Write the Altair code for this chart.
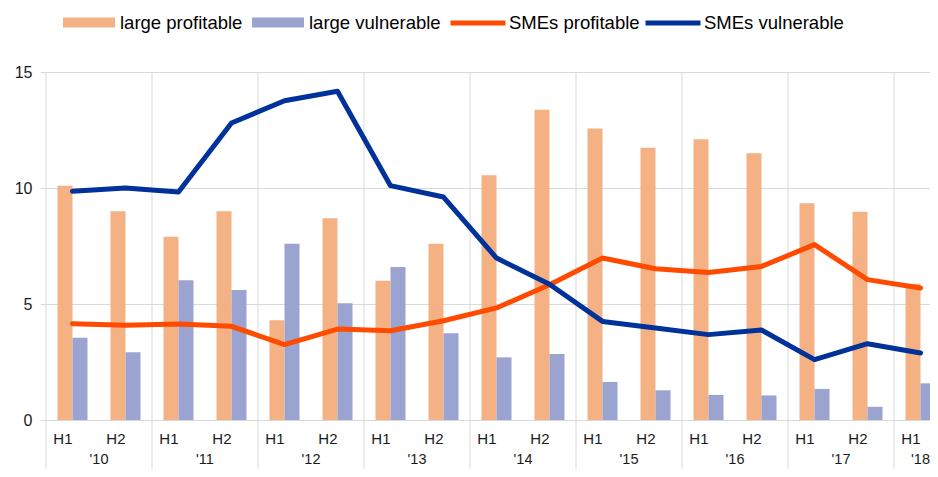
import altair as alt
import pandas as pd

# ---- data ----
periods = ["2010-H1", "2010-H2", "2011-H1", "2011-H2", "2012-H1", "2012-H2",
           "2013-H1", "2013-H2", "2014-H1", "2014-H2", "2015-H1", "2015-H2",
           "2016-H1", "2016-H2", "2017-H1", "2017-H2", "2018-H1"]
year_starts = ["2010-H1", "2011-H1", "2012-H1", "2013-H1", "2014-H1",
               "2015-H1", "2016-H1", "2017-H1", "2018-H1"]
year_labels = ["'10", "'11", "'12", "'13", "'14", "'15", "'16", "'17", "'18"]

large_profitable = [10.1, 9.0, 7.9, 9.0, 4.3, 8.7, 6.0, 7.6, 10.55, 13.37,
                    12.57, 11.74, 12.1, 11.5, 9.34, 8.98, 5.87]
large_vulnerable = [3.55, 2.92, 6.02, 5.6, 7.6, 5.03, 6.6, 3.74, 2.7, 2.84,
                    1.64, 1.28, 1.08, 1.06, 1.34, 0.57, 1.58]
smes_profitable = [4.15, 4.08, 4.14, 4.04, 3.25, 3.92, 3.85, 4.28, 4.83, 5.83,
                   6.98, 6.52, 6.36, 6.62, 7.56, 6.05, 5.69]
smes_vulnerable = [9.86, 10.0, 9.83, 12.8, 13.76, 14.17, 10.1, 9.61, 6.98, 5.85,
                   4.25, 3.97, 3.68, 3.88, 2.6, 3.29, 2.89]

bar_series = ["large profitable", "large vulnerable"]
line_series = ["SMEs profitable", "SMEs vulnerable"]
bar_colors = ["#F4B183", "#9BA3D1"]
line_colors = ["#FF4B00", "#003299"]

# ---- tables ----
bars_df = pd.DataFrame(
    [{"period": p, "series": bar_series[0], "value": v} for p, v in zip(periods, large_profitable)]
    + [{"period": p, "series": bar_series[1], "value": v} for p, v in zip(periods, large_vulnerable)]
)
lines_df = pd.DataFrame(
    [{"period": p, "series": line_series[0], "value": v} for p, v in zip(periods, smes_profitable)]
    + [{"period": p, "series": line_series[1], "value": v} for p, v in zip(periods, smes_vulnerable)]
)
years_full = pd.DataFrame({"period": year_starts[:-1], "label": year_labels[:-1]})
years_last = pd.DataFrame({"period": year_starts[-1:], "label": year_labels[-1:]})
seps_df = pd.DataFrame({"period": year_starts})

# ---- layout ----
N = len(periods)
STEP = 53.0
RANGE_W = STEP * N          # full band range (last band runs past the visible edge)
W = 884                     # visible plot width
H = 348
BAND = 30.0
PI = 1 - BAND / STEP
FONT = "Liberation Sans"
GRID = "#d9d9d9"
TXT = "#1a1a1a"

xscale = alt.Scale(domain=periods, range=[0, RANGE_W], paddingInner=PI, paddingOuter=PI / 2)
yscale = alt.Scale(domain=[0, 15], nice=False)

seps = alt.Chart(seps_df).mark_rule(color=GRID, strokeWidth=1, xOffset=-STEP / 2).encode(
    x=alt.X("period:N", scale=xscale, bandPosition=0.5),
    y=alt.value(0),
    y2=alt.value(H + 49),
)

bars = alt.Chart(bars_df).mark_bar().encode(
    x=alt.X("period:N", scale=xscale, title=None,
            axis=alt.Axis(labelExpr="split(datum.value, '-')[1]", labelAngle=0,
                          domain=False, ticks=False, grid=False, labelPadding=18,
                          labelFontSize=15, labelFont=FONT, labelColor=TXT)),
    xOffset=alt.XOffset("series:N", sort=bar_series,
                        scale=alt.Scale(domain=bar_series, paddingInner=0, paddingOuter=0)),
    y=alt.Y("value:Q", scale=yscale, title=None,
            axis=alt.Axis(values=[0, 5, 10, 15], grid=True, gridColor=GRID, domain=False,
                          tickColor=GRID, tickSize=6, labelPadding=8, labelFontSize=16,
                          labelFont=FONT, labelColor=TXT)),
    color=alt.Color("series:N", scale=alt.Scale(domain=bar_series, range=bar_colors),
                    legend=alt.Legend(orient="none", legendX=17, legendY=-75.5, direction="horizontal",
                                      title=None, symbolType="M-1,-0.19H1V0.19H-1Z",
                                      symbolSize=2704, symbolStrokeWidth=0, gridAlign="none",
                                      labelFontSize=18.5, labelFont=FONT, labelColor="#000000",
                                      labelOffset=5, columnPadding=9)),
)

lines = alt.Chart(lines_df).mark_line(strokeWidth=5, strokeCap="round", strokeJoin="round").encode(
    x=alt.X("period:N", scale=xscale),
    y=alt.Y("value:Q", scale=yscale),
    stroke=alt.Stroke("series:N", scale=alt.Scale(domain=line_series, range=line_colors),
                      legend=alt.Legend(orient="none", legendX=402, legendY=-79, direction="horizontal",
                                        title=None, symbolType="stroke", symbolSize=3025,
                                        symbolStrokeWidth=5, gridAlign="none",
                                        labelFontSize=18.5, labelFont=FONT, labelColor="#000000",
                                        labelOffset=1, columnPadding=-5)),
    detail="series:N",
)

yr_full = alt.Chart(years_full).mark_text(dx=STEP / 2, fontSize=14.5, font=FONT, color=TXT,
                                          baseline="middle").encode(
    x=alt.X("period:N", scale=xscale),
    y=alt.value(H + 40),
    text="label:N",
)
yr_last = alt.Chart(years_last).mark_text(fontSize=14.5, font=FONT, color=TXT,
                                          baseline="middle").encode(
    x=alt.X("period:N", scale=xscale),
    y=alt.value(H + 40),
    text="label:N",
)

chart = alt.layer(seps, bars, lines, yr_full, yr_last).resolve_scale(
    color="independent", stroke="independent"
).properties(
    width=W, height=H,
    autosize=alt.AutoSizeParams(type="none"),
    padding={"left": 38, "top": 64, "right": 0, "bottom": 49},
).configure_view(stroke=None)

chart.save("out.html", embed_options={"renderer": "svg", "actions": False})
